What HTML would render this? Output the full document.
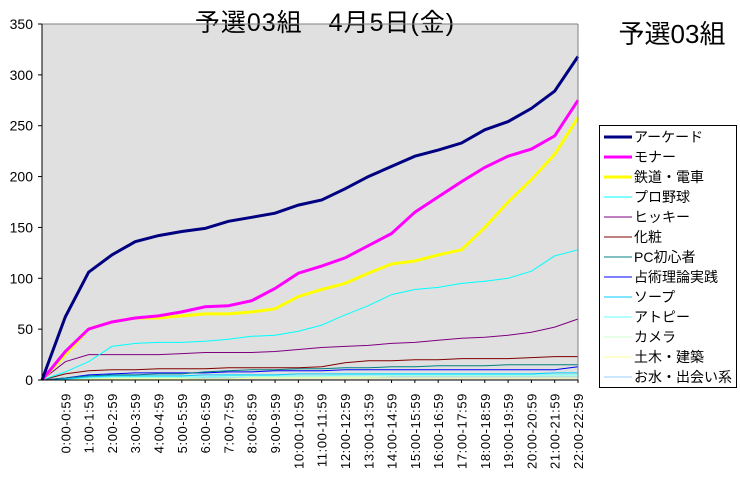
<!DOCTYPE html>
<html><head><meta charset="utf-8"><style>
html,body{margin:0;padding:0;background:#fff;}
svg{display:block;font-family:"Liberation Sans","Noto Sans CJK JP",sans-serif;}
</style></head><body>
<svg id="s" width="740" height="480" xmlns="http://www.w3.org/2000/svg">
<rect x="42" y="24" width="536" height="356" fill="#e0e0e0"/>
<text x="325" y="31" font-size="25" text-anchor="middle" letter-spacing="1">予選03組　4月5日(金)</text>
<text x="672" y="43" font-size="26" text-anchor="middle">予選03組</text>
<g id="g"></g>
<line x1="42" y1="24" x2="578" y2="24" stroke="#808080"/>
<line x1="578" y1="24" x2="578" y2="380" stroke="#808080"/>
<line x1="42" y1="24" x2="42" y2="380" stroke="#000"/>
<line x1="42" y1="380" x2="578" y2="380" stroke="#000"/>
<rect x="599.5" y="125.5" width="137" height="262" fill="#fff" stroke="#000"/>
<g id="lg" font-size="14"></g>
</svg>
<script>
var g=document.getElementById('g'),lg=document.getElementById('lg'),ns='http://www.w3.org/2000/svg';
function el(t,a,p,txt){var e=document.createElementNS(ns,t);for(var k in a)e.setAttribute(k,a[k]);if(txt!==undefined)e.textContent=txt;(p||g).appendChild(e);return e;}
function Y(v){return 380-v*356/350;}
function X(i){return 42+i*536/23;}
for(var v=0;v<=350;v+=50){el('line',{x1:38,x2:42,y1:Y(v),y2:Y(v),stroke:'#000'});el('text',{x:33,y:Y(v)+5,'font-size':14,'text-anchor':'end'},g,v);}
for(var i=1;i<=23;i++){el('line',{x1:X(i),x2:X(i),y1:380,y2:383,stroke:'#000'});var x=X(i)+5;el('text',{x:x,y:393,'font-size':13,'letter-spacing':'0.6','text-anchor':'end',transform:'rotate(-90 '+x+' 393)'},g,(i-1)+':00-'+(i-1)+':59');}
var S=[
['アーケード','#000080',3,[0,62,106,123,136,142,146,149,156,160,164,172,177,188,200,210,220,226,233,246,254,267,284,318]],
['モナー','#ff00ff',3,[0,28,50,57,61,63,67,72,73,78,90,105,112,120,132,144,165,180,195,209,220,227,240,275]],
['鉄道・電車','#ffff00',3,[0,25,50,57,61,61,63,65,65,67,70,82,89,95,105,114,117,123,128,150,175,197,222,258]],
['プロ野球','#00ffff',1,[0,8,18,33,36,37,37,38,40,43,44,48,54,64,73,84,89,91,95,97,100,107,122,128]],
['ヒッキー','#800080',1,[0,18,25,25,25,25,26,27,27,27,28,30,32,33,34,36,37,39,41,42,44,47,52,60]],
['化粧','#800000',1,[0,6,9,10,10,11,11,11,12,12,12,12,13,17,19,19,20,20,21,21,21,22,23,23]],
['PC初心者','#008080',1,[0,2,4,5,5,6,6,8,9,10,10,11,11,12,12,13,13,14,14,14,15,15,15,15]],
['占術理論実践','#0000ff',1,[0,2,5,6,7,7,7,7,8,8,9,9,9,10,10,10,10,10,10,10,10,10,10,13]],
['ソープ','#00ccff',1,[0,1,3,4,4,4,4,5,5,5,5,6,6,6,6,6,6,6,6,6,6,6,7,7]],
['アトピー','#66ffff',1,[0,1,2,3,3,3,3,3,4,4,4,4,4,5,5,5,5,5,5,5,5,5,5,5]],
['カメラ','#ccffcc',1,[0,1,2,2,2,2,2,3,3,3,3,3,3,3,3,4,4,4,4,4,4,4,4,4]],
['土木・建築','#ffff99',1,[0,0,1,1,1,1,1,1,1,2,2,2,2,2,2,2,2,2,2,2,2,2,2,2]],
['お水・出会い系','#99ccff',1,[0,1,1,2,2,2,2,2,2,2,3,3,3,3,3,3,3,3,3,3,3,3,3,3]]];
for(var k=S.length-1;k>=0;k--){var s=S[k],p=s[3].map(function(v,i){return X(i).toFixed(1)+','+Y(v).toFixed(1)}).join(' ');el('polyline',{points:p,fill:'none',stroke:s[1],'stroke-width':s[2]});}
S.forEach(function(s,k){var y=137+k*20;el('line',{x1:604,x2:632,y1:y,y2:y,stroke:s[1],'stroke-width':s[2]},lg);el('text',{x:634,y:y+5},lg,s[0]);});
</script>
</body></html>
